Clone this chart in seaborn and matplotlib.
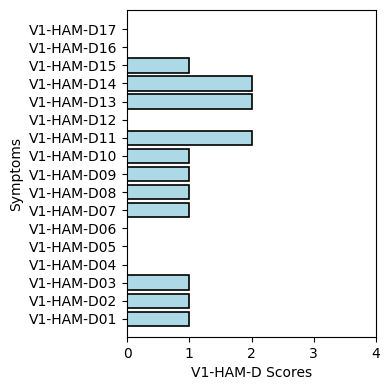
import matplotlib
matplotlib.use("Agg")
import matplotlib.pyplot as plt
import seaborn as sns
import pandas as pd

symptoms = [f"V1-HAM-D{i:02d}" for i in range(1, 18)]
scores = [1, 1, 1, 0, 0, 0, 1, 1, 1, 1, 2, 0, 2, 2, 1, 0, 0]

df = pd.DataFrame({"Symptoms": symptoms, "V1-HAM-D Scores": scores})

fig, ax = plt.subplots(figsize=(3.9, 3.9), dpi=100)
sns.barplot(data=df, x="V1-HAM-D Scores", y="Symptoms", order=symptoms[::-1],
            color="lightblue", edgecolor="black", linewidth=1.2, saturation=1, ax=ax)
ax.set_xlim(0, 4)
ax.set_xticks([0, 1, 2, 3, 4])
ax.set_ylim(17.0, -1.05)
fig.subplots_adjust(left=0.326, right=0.964, top=0.974, bottom=0.136)
fig.savefig("out.png", dpi=100)
